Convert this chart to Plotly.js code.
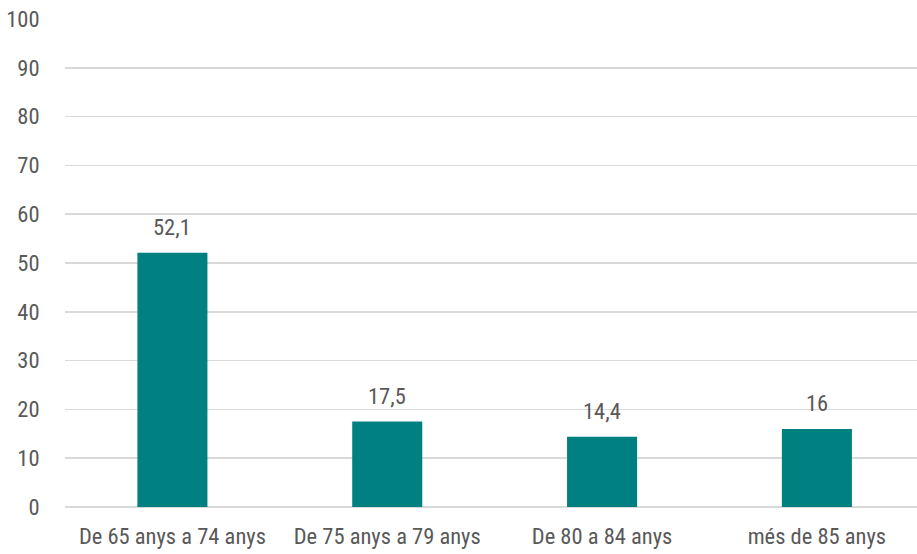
<!DOCTYPE html>
<html>
<head>
<meta charset="utf-8">
<script src="https://cdn.plot.ly/plotly-3.0.1.min.js"></script>
<style>html,body{margin:0;padding:0;background:#fff;}#chart{width:917px;height:554px;}</style>
</head>
<body>
<div id="chart"></div>
<script>
const categories = ["De 65 anys a 74 anys", "De 75 anys a 79 anys", "De 80 a 84 anys", "més de 85 anys"];
const values = [52.1, 17.5, 14.4, 16];
const valueLabels = ["52,1", "17,5", "14,4", "16"];
const yTicks = [0, 10, 20, 30, 40, 50, 60, 70, 80, 90, 100];

const FONT = "'Roboto Condensed', 'Arial Narrow', sans-serif";
const TXT = "#595959";
const FS = 22.5;

const trace = {
  type: "bar",
  x: categories,
  y: values,
  marker: {color: "#008080"},
  width: 0.326,
  hoverinfo: "none"
};

const annotations = categories.map((c, i) => ({
  x: c, y: values[i], text: valueLabels[i], showarrow: false,
  xref: "x", yref: "y", yanchor: "bottom", yshift: 11,
  font: {family: FONT, size: FS, color: TXT}
}));

const layout = {
  width: 917, height: 554,
  margin: {l: 65, r: 0, t: 19, b: 47},
  paper_bgcolor: "#fff", plot_bgcolor: "#fff",
  showlegend: false,
  font: {family: FONT, size: FS, color: TXT},
  xaxis: {
    type: "category",
    range: [-0.5, 3.466],
    showgrid: false, zeroline: false, showline: false,
    ticks: "outside", ticklen: 9, tickcolor: "rgba(0,0,0,0)",
    tickfont: {family: FONT, size: FS, color: TXT}
  },
  yaxis: {
    range: [0, 100],
    tickvals: yTicks,
    ticktext: yTicks.map(String),
    showgrid: true, gridcolor: "#d9d9d9", gridwidth: 1.5,
    zeroline: true, zerolinecolor: "#d9d9d9", zerolinewidth: 1.5,
    showline: false,
    ticks: "outside", ticklen: 20, tickcolor: "rgba(0,0,0,0)",
    tickfont: {family: FONT, size: FS, color: TXT}
  },
  annotations: annotations
};

Plotly.newPlot("chart", [trace], layout, {displayModeBar: false, staticPlot: true});
</script>
</body>
</html>
